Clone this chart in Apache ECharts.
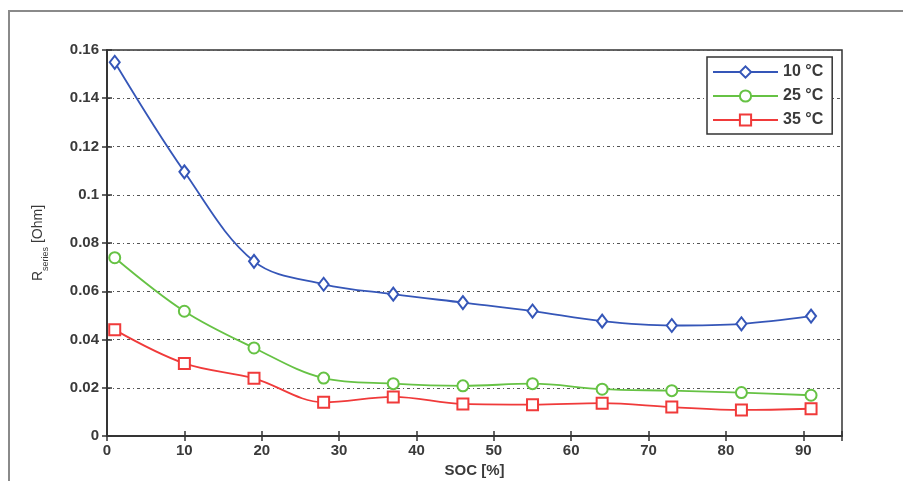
<!DOCTYPE html>
<html>
<head>
<meta charset="utf-8">
<script src="https://cdn.jsdelivr.net/npm/echarts@6/dist/echarts.min.js"></script>
<style>
  html, body { margin: 0; padding: 0; background: #fff; }
  #chart { width: 903px; height: 481px; }
</style>
</head>
<body>
<div id="chart"></div>
<script>
// State of charge sample points [%]
const soc = [1, 10, 19, 28, 37, 46, 55, 64, 73, 82, 91];

// Series resistance [Ohm] at each temperature
const r10 = [0.1549, 0.1095, 0.0724, 0.0629, 0.0588, 0.0553, 0.0518, 0.0476, 0.0458, 0.0465, 0.0497];
const r25 = [0.0739, 0.0517, 0.0365, 0.0240, 0.0217, 0.0208, 0.0217, 0.0194, 0.0188, 0.0180, 0.0169];
const r35 = [0.0440, 0.0301, 0.0239, 0.0140, 0.0162, 0.0133, 0.0130, 0.0136, 0.0120, 0.0108, 0.0113];

const seriesNames = ['10 °C', '25 °C', '35 °C'];
const xTicks = [0, 10, 20, 30, 40, 50, 60, 70, 80, 90];

const pairs = (ys) => soc.map((x, i) => [x, ys[i]]);

const font = 'Liberation Sans, Arial, sans-serif';
const textColor = '#3a3a3a';

const chart = echarts.init(document.getElementById('chart'));

function lineSeries(name, ys, color, symbol, size) {
  return {
    name: name,
    type: 'line',
    data: pairs(ys),
    smooth: 0.35,
    symbol: symbol,
    symbolSize: size,
    showAllSymbol: true,
    lineStyle: { color: color, width: 1.8 },
    itemStyle: { color: color, borderColor: color, borderWidth: 1.4 },
    emphasis: { disabled: true },
    z: 3
  };
}

const frameAxis = {
  axisLine: { show: true, lineStyle: { color: '#333', width: 1.5 } },
  axisTick: { show: true, inside: true, length: 5, lineStyle: { color: '#333', width: 1.5 } },
  axisLabel: { show: false },
  splitLine: { show: false }
};

chart.setOption({
  animation: false,
  backgroundColor: '#fff',
  graphic: [{
    type: 'rect',
    shape: { x: 9, y: 11, width: 1000, height: 1000 },
    style: { fill: 'none', stroke: '#8a8a8a', lineWidth: 2 },
    silent: true
  }],
  grid: {
    left: 107, top: 50, right: 61, bottom: 45,
    containLabel: false,
    outerBoundsMode: 'none',
    show: true, borderColor: '#333', borderWidth: 1.5, backgroundColor: '#fff'
  },
  legend: {
    data: seriesNames,
    orient: 'vertical',
    left: 707, top: 57,
    itemWidth: 65, itemHeight: 14, itemGap: 8,
    padding: [7, 9, 6, 5],
    backgroundColor: '#fff',
    borderColor: '#333', borderWidth: 1.5,
    textStyle: { fontFamily: font, fontSize: 16, fontWeight: 'bold', color: textColor },
    selectedMode: false
  },
  xAxis: [{
    type: 'value',
    min: 0, max: 95, interval: 10,
    name: 'SOC [%]',
    nameLocation: 'middle',
    nameGap: 25,
    nameTextStyle: { fontFamily: font, fontSize: 15, fontWeight: 'bold', color: textColor },
    axisLine: { show: true, lineStyle: { color: '#333', width: 1.5 } },
    axisTick: { show: true, inside: true, length: 5, lineStyle: { color: '#333', width: 1.5 } },
    axisLabel: {
      margin: 7,
      fontFamily: font, fontSize: 15, fontWeight: 'bold', color: textColor,
      formatter: (v) => xTicks.indexOf(v) >= 0 ? String(v) : ''
    },
    splitLine: { show: false }
  }, Object.assign({
    type: 'value',
    position: 'top',
    min: 0, max: 95, interval: 10
  }, frameAxis)],
  yAxis: [{
    type: 'value',
    min: 0, max: 0.16, interval: 0.02,
    name: '{r|R}{s|series}{r| [Ohm]}',
    nameLocation: 'middle',
    nameGap: 57,
    nameTextStyle: {
      color: textColor,
      rich: {
        r: { fontFamily: font, fontSize: 14, color: textColor, lineHeight: 14, verticalAlign: 'top' },
        s: { fontFamily: font, fontSize: 9, color: textColor, lineHeight: 19, verticalAlign: 'bottom' }
      }
    },
    axisLine: { show: true, lineStyle: { color: '#333', width: 1.5 } },
    axisTick: { show: true, inside: true, length: 5, lineStyle: { color: '#333', width: 1.5 } },
    axisLabel: {
      margin: 8,
      fontFamily: font, fontSize: 15, fontWeight: 'bold', color: textColor,
      formatter: (v) => String(+v.toFixed(2))
    },
    splitLine: { show: true, lineStyle: { color: '#555', width: 1, type: [3, 3, 1, 3] } }
  }, Object.assign({
    type: 'value',
    position: 'right',
    min: 0, max: 0.16, interval: 0.02
  }, frameAxis)],
  series: [
    lineSeries(seriesNames[0], r10, '#3556b8', 'emptyDiamond', [10, 13]),
    lineSeries(seriesNames[1], r25, '#66c244', 'emptyCircle', 11),
    lineSeries(seriesNames[2], r35, '#f03a3a', 'emptyRect', 11)
  ]
});
</script>
</body>
</html>
